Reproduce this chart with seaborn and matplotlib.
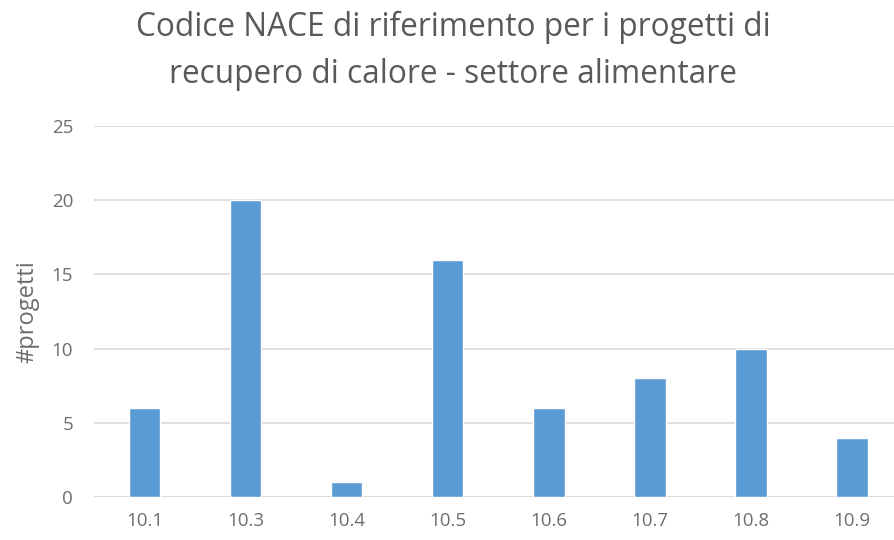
import matplotlib

matplotlib.use("Agg")

import matplotlib.pyplot as plt
import pandas as pd
import seaborn as sns

codes = ["10.1", "10.3", "10.4", "10.5", "10.6", "10.7", "10.8", "10.9"]
progetti = [6, 20, 1, 16, 6, 8, 10, 4]
y_ticks = [0, 5, 10, 15, 20, 25]

sns.set_theme(style="white")
plt.rcParams["font.family"] = ["Open Sans", "DejaVu Sans"]

frame = pd.DataFrame({"codice": codes, "progetti": progetti})

fig = plt.figure(figsize=(8.94, 5.4), dpi=100)
ax = fig.add_axes([94 / 894, 43 / 540, 808.6 / 894, 371 / 540])
sns.barplot(data=frame, x="codice", y="progetti", color="#5B9BD5", width=0.31,
            saturation=1, ax=ax, zorder=3)

ax.set_xlim(-0.5, len(codes) - 0.5)
ax.set_ylim(0, 25)
ax.set_yticks(y_ticks)
ax.yaxis.grid(True, color="#D9D9D9", linewidth=1.2, zorder=0)
for side in ["top", "right", "left", "bottom"]:
    ax.spines[side].set_visible(False)
ax.axhline(0, color="#D9D9D9", linewidth=1.2, zorder=1)
ax.tick_params(axis="both", length=0, colors="#6D6D6D", labelsize=13.5)
ax.tick_params(axis="y", pad=15)
ax.tick_params(axis="x", pad=11)
ax.set_xlabel("")
ax.set_ylabel("#progetti", color="#6D6D6D", fontsize=17, labelpad=9)

fig.suptitle("Codice NACE di riferimento per i progetti di\nrecupero di calore - settore alimentare",
             x=453 / 894, y=1 - 11 / 540, va="top", fontsize=22.8, color="#595959",
             linespacing=1.55)

fig.savefig("out.png", dpi=100)
